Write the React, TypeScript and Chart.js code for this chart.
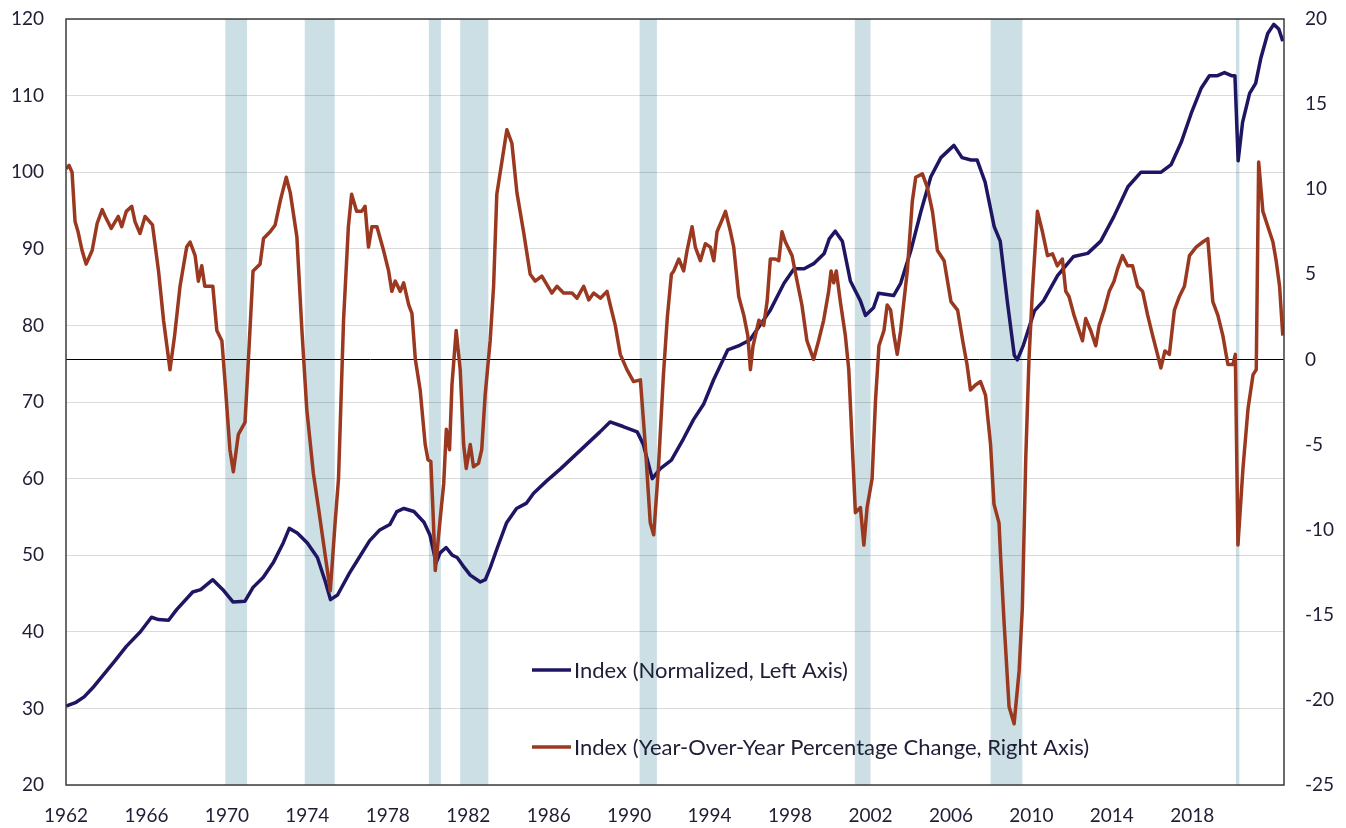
import React, { useEffect, useRef } from 'react';
import { Chart, registerables } from 'chart.js';

Chart.register(...registerables);

// ---- Data ----
const indexYears = [
  1962.0, 1962.5, 1962.9, 1963.4, 1963.9, 1964.4, 1965.0, 1965.7, 1966.25, 1966.6,
  1967.1, 1967.5, 1968.3, 1968.7, 1969.3, 1969.8, 1970.3, 1970.9, 1971.3, 1971.8,
  1972.3, 1972.8, 1973.1, 1973.5, 1974.0, 1974.5, 1974.9, 1975.15, 1975.5, 1976.1,
  1976.6, 1977.1, 1977.6, 1978.1, 1978.45, 1978.8, 1979.3, 1979.8, 1980.1, 1980.4,
  1980.6, 1980.9, 1981.2, 1981.45, 1981.8, 1982.1, 1982.6, 1982.85, 1983.1, 1983.45,
  1983.9, 1984.4, 1984.9, 1985.25, 1985.9, 1986.6, 1987.25, 1987.9, 1988.55, 1989.05,
  1989.7, 1990.4, 1990.7, 1991.15, 1991.55, 1992.1, 1992.7, 1993.2, 1993.7, 1994.2,
  1994.9, 1995.5, 1996.0, 1996.5, 1997.0, 1997.7, 1998.2, 1998.7, 1999.2, 1999.7,
  1999.95, 2000.25, 2000.6, 2001.0, 2001.5, 2001.75, 2002.15, 2002.4, 2003.15, 2003.5,
  2004.0, 2004.5, 2005.0, 2005.5, 2006.15, 2006.55, 2007.0, 2007.3, 2007.7, 2008.15,
  2008.45, 2008.8, 2009.15, 2009.3, 2009.6, 2010.15, 2010.6, 2011.3, 2012.1, 2012.8,
  2013.45, 2014.1, 2014.8, 2015.45, 2015.95, 2016.45, 2016.95, 2017.45, 2017.95, 2018.45,
  2018.85, 2019.25, 2019.6, 2019.95, 2020.12, 2020.28, 2020.5, 2020.85, 2021.15, 2021.4,
  2021.75, 2022.05, 2022.3, 2022.5,
];
const indexValues = [
  30.3, 30.8, 31.5, 32.9, 34.5, 36.1, 38.1, 40.0, 41.9, 41.6,
  41.5, 42.9, 45.2, 45.5, 46.8, 45.5, 43.9, 44.0, 45.8, 47.1,
  49.0, 51.6, 53.5, 52.9, 51.6, 49.7, 46.5, 44.2, 44.8, 47.7,
  49.8, 51.9, 53.3, 54.0, 55.7, 56.1, 55.7, 54.3, 52.6, 49.0,
  50.3, 51.0, 50.0, 49.7, 48.4, 47.4, 46.5, 46.8, 48.4, 51.0,
  54.2, 56.1, 56.8, 58.1, 59.7, 61.3, 62.9, 64.5, 66.1, 67.4,
  66.8, 66.1, 64.5, 60.0, 61.3, 62.4, 65.2, 67.7, 69.7, 72.9,
  76.8, 77.4, 78.1, 80.0, 81.9, 85.5, 87.4, 87.4, 88.1, 89.4,
  91.3, 92.3, 91.0, 85.8, 83.2, 81.3, 82.3, 84.2, 83.9, 85.5,
  89.7, 94.8, 99.4, 101.9, 103.5, 101.9, 101.6, 101.6, 98.7, 92.9,
  91.0, 83.2, 76.1, 75.5, 77.4, 81.9, 83.2, 86.5, 89.0, 89.4,
  91.0, 94.2, 98.1, 100.0, 100.0, 100.0, 101.0, 103.9, 107.7, 111.0,
  112.6, 112.6, 113.0, 112.6, 112.6, 101.5, 106.5, 110.3, 111.6, 114.8,
  118.1, 119.3, 118.7, 117.1,
];

const yoyYears = [
  1962.0, 1962.15, 1962.3, 1962.45, 1962.6, 1962.8, 1963.0, 1963.3, 1963.55, 1963.8,
  1963.95, 1964.25, 1964.6, 1964.77, 1965.0, 1965.27, 1965.43, 1965.68, 1965.93, 1966.3,
  1966.6, 1966.85, 1967.05, 1967.17, 1967.4, 1967.67, 1968.0, 1968.17, 1968.42, 1968.58,
  1968.75, 1968.9, 1969.3, 1969.5, 1969.75, 1969.9, 1970.15, 1970.32, 1970.57, 1970.9,
  1971.07, 1971.3, 1971.65, 1971.82, 1972.15, 1972.4, 1972.65, 1972.95, 1973.15, 1973.48,
  1973.73, 1973.97, 1974.3, 1974.55, 1974.9, 1975.14, 1975.38, 1975.55, 1975.8, 1976.04,
  1976.2, 1976.45, 1976.7, 1976.87, 1977.04, 1977.21, 1977.46, 1977.79, 1978.04, 1978.2,
  1978.37, 1978.62, 1978.79, 1979.04, 1979.2, 1979.37, 1979.61, 1979.86, 1980.0, 1980.14,
  1980.24, 1980.36, 1980.61, 1980.78, 1980.91, 1981.07, 1981.19, 1981.4, 1981.6, 1981.77,
  1981.9, 1982.1, 1982.26, 1982.51, 1982.67, 1982.84, 1983.09, 1983.26, 1983.42, 1983.67,
  1983.92, 1984.17, 1984.42, 1984.75, 1985.08, 1985.33, 1985.66, 1986.16, 1986.41, 1986.74,
  1987.16, 1987.41, 1987.74, 1987.99, 1988.24, 1988.57, 1988.9, 1989.06, 1989.31, 1989.56,
  1989.89, 1990.22, 1990.56, 1990.8, 1991.05, 1991.22, 1991.45, 1991.7, 1991.9, 1992.1,
  1992.22, 1992.47, 1992.71, 1992.88, 1993.13, 1993.29, 1993.54, 1993.79, 1994.04, 1994.21,
  1994.37, 1994.62, 1994.79, 1995.04, 1995.2, 1995.45, 1995.7, 1995.9, 1996.03, 1996.16,
  1996.45, 1996.69, 1996.86, 1997.02, 1997.27, 1997.44, 1997.6, 1997.77, 1998.1, 1998.35,
  1998.59, 1998.84, 1999.17, 1999.42, 1999.67, 1999.92, 2000.04, 2000.17, 2000.3, 2000.5,
  2000.75, 2000.92, 2001.08, 2001.25, 2001.5, 2001.67, 2001.83, 2002.08, 2002.25, 2002.42,
  2002.67, 2002.83, 2003.0, 2003.17, 2003.33, 2003.5, 2003.83, 2004.08, 2004.25, 2004.58,
  2004.83, 2005.08, 2005.33, 2005.66, 2006.0, 2006.33, 2006.6, 2006.8, 2006.97, 2007.22,
  2007.47, 2007.72, 2007.97, 2008.14, 2008.39, 2008.47, 2008.64, 2008.89, 2009.14, 2009.39,
  2009.55, 2009.72, 2009.88, 2010.05, 2010.3, 2010.55, 2010.8, 2011.05, 2011.29, 2011.54,
  2011.71, 2011.87, 2012.12, 2012.37, 2012.54, 2012.7, 2012.95, 2013.2, 2013.37, 2013.62,
  2013.87, 2014.11, 2014.28, 2014.53, 2014.78, 2015.03, 2015.28, 2015.53, 2015.78, 2016.03,
  2016.27, 2016.44, 2016.64, 2016.86, 2017.11, 2017.36, 2017.61, 2017.86, 2018.19, 2018.52,
  2018.77, 2019.02, 2019.27, 2019.52, 2019.77, 2020.02, 2020.14, 2020.27, 2020.52, 2020.77,
  2021.02, 2021.18, 2021.3, 2021.51, 2021.76, 2022.01, 2022.17, 2022.34, 2022.5,
];
const yoyValues = [
  11.2, 11.4, 11.0, 8.1, 7.5, 6.4, 5.6, 6.4, 8.0, 8.8,
  8.4, 7.7, 8.4, 7.8, 8.7, 9.0, 8.1, 7.4, 8.4, 7.9,
  5.2, 2.3, 0.5, -0.6, 1.4, 4.3, 6.6, 6.9, 6.1, 4.6,
  5.5, 4.3, 4.3, 1.7, 1.1, -1.2, -5.3, -6.6, -4.4, -3.7,
  0.0, 5.2, 5.6, 7.1, 7.5, 7.9, 9.3, 10.7, 9.8, 7.2,
  1.7, -2.9, -6.7, -8.7, -11.6, -13.6, -9.6, -7.0, 2.3, 7.8,
  9.7, 8.7, 8.7, 9.0, 6.6, 7.8, 7.8, 6.4, 5.2, 4.0,
  4.6, 4.0, 4.5, 3.2, 2.7, 0.0, -1.8, -5.0, -5.9, -6.0,
  -8.7, -12.4, -9.3, -7.3, -4.1, -5.3, -1.5, 1.7, -0.6, -5.0,
  -6.4, -5.0, -6.3, -6.1, -5.3, -2.1, 1.1, 4.3, 9.7, 11.6,
  13.5, 12.7, 9.8, 7.5, 5.0, 4.6, 4.9, 3.9, 4.3, 3.9,
  3.9, 3.6, 4.3, 3.5, 3.9, 3.6, 4.0, 3.2, 2.0, 0.3,
  -0.6, -1.3, -1.2, -5.0, -9.6, -10.3, -6.5, -1.0, 2.5, 5.0,
  5.2, 5.9, 5.2, 6.4, 7.8, 6.6, 5.8, 6.8, 6.6, 5.8,
  7.5, 8.2, 8.7, 7.5, 6.6, 3.7, 2.6, 1.4, -0.6, 0.8,
  2.3, 2.0, 3.4, 5.9, 5.9, 5.8, 7.5, 6.9, 6.1, 4.6,
  3.2, 1.1, 0.0, 1.1, 2.3, 4.0, 5.2, 4.5, 5.2, 3.4,
  1.4, -0.6, -4.7, -9.0, -8.7, -10.9, -8.7, -7.0, -2.4, 0.8,
  1.7, 3.2, 2.9, 1.4, 0.3, 1.7, 5.2, 9.3, 10.7, 10.9,
  10.1, 8.7, 6.4, 5.8, 3.4, 2.9, 1.0, -0.3, -1.8, -1.5,
  -1.3, -2.1, -5.0, -8.5, -9.6, -11.6, -15.4, -20.4, -21.4, -18.3,
  -14.6, -5.8, 0.0, 4.0, 8.7, 7.5, 6.1, 6.2, 5.5, 5.9,
  4.0, 3.7, 2.6, 1.7, 1.1, 2.4, 1.7, 0.8, 2.0, 2.9,
  4.0, 4.6, 5.3, 6.1, 5.5, 5.5, 4.3, 4.0, 2.6, 1.4,
  0.3, -0.5, 0.5, 0.3, 2.9, 3.7, 4.3, 6.1, 6.6, 6.9,
  7.1, 3.4, 2.6, 1.4, -0.3, -0.3, 0.3, -10.9, -6.4, -2.9,
  -0.9, -0.6, 11.6, 8.7, 7.8, 6.9, 5.8, 4.3, 1.4,
];

const recessionStarts = [1969.92, 1973.87, 1980.04, 1981.6, 1990.52, 2001.22, 2007.97, 2020.17];
const recessionEnds = [1971.0, 1975.36, 1980.64, 1983.0, 1991.38, 2002.0, 2009.55, 2020.34];

const xTickYears = [1962, 1966, 1970, 1974, 1978, 1982, 1986, 1990, 1994, 1998, 2002, 2006, 2010, 2014, 2018];
const leftTicks = [20, 30, 40, 50, 60, 70, 80, 90, 100, 110, 120];
const rightTicks = [-25, -20, -15, -10, -5, 0, 5, 10, 15, 20];

const seriesLabels = [
  'Index (Normalized, Left Axis)',
  'Index (Year-Over-Year Percentage Change, Right Axis)',
];

const BLUE = '#1e1663';
const RED = '#9a3820';
const TEXT = '#1e1e36';
const FONT = 'Lato, "Noto Sans", sans-serif';

export default function App() {
  const canvasRef = useRef<HTMLCanvasElement | null>(null);

  useEffect(() => {
    const canvas = canvasRef.current;
    if (!canvas) return;

    const overlay = {
      id: 'overlay',
      beforeDraw(chart: any) {
        const { ctx, chartArea: a, scales } = chart;
        ctx.save();
        ctx.fillStyle = 'rgb(203,223,229)';
        recessionStarts.forEach((s, i) => {
          const x1 = scales.x.getPixelForValue(s);
          const x2 = scales.x.getPixelForValue(recessionEnds[i]);
          ctx.fillRect(x1, a.top, x2 - x1, a.bottom - a.top);
        });
        ctx.restore();
      },
      beforeDatasetsDraw(chart: any) {
        const { ctx, chartArea: a, scales } = chart;
        const y0 = Math.round(scales.y1.getPixelForValue(0)) + 0.5;
        ctx.save();
        ctx.strokeStyle = '#000';
        ctx.lineWidth = 1;
        ctx.beginPath();
        ctx.moveTo(a.left, y0);
        ctx.lineTo(a.right, y0);
        ctx.stroke();
        ctx.restore();
      },
      afterDatasetsDraw(chart: any) {
        const { ctx, chartArea: a } = chart;
        ctx.save();
        ctx.strokeStyle = '#3c3c3c';
        ctx.lineWidth = 1.5;
        ctx.strokeRect(a.left, a.top, a.right - a.left, a.bottom - a.top);
        // legend
        const items = [
          { label: seriesLabels[0], color: BLUE, y: 670 },
          { label: seriesLabels[1], color: RED, y: 747 },
        ];
        ctx.font = `22px ${FONT}`;
        ctx.textBaseline = 'middle';
        ctx.textAlign = 'left';
        items.forEach((it) => {
          ctx.strokeStyle = it.color;
          ctx.lineWidth = 3.5;
          ctx.beginPath();
          ctx.moveTo(532, it.y);
          ctx.lineTo(571, it.y);
          ctx.stroke();
          ctx.fillStyle = TEXT;
          ctx.fillText(it.label, 574, it.y + 1);
        });
        ctx.restore();
      },
    };

    const fitY = (w: number) => (s: any) => {
      s.width = w;
      s.paddingTop = 0;
      s.paddingBottom = 0;
    };

    const chart = new Chart(canvas, {
      type: 'line',
      data: {
        datasets: [
          {
            label: seriesLabels[0],
            data: indexYears.map((x, i) => ({ x, y: indexValues[i] })),
            borderColor: BLUE,
            borderWidth: 3.5,
            pointRadius: 0,
            tension: 0,
            yAxisID: 'y',
            order: 2,
            borderJoinStyle: 'round',
          },
          {
            label: seriesLabels[1],
            data: yoyYears.map((x, i) => ({ x, y: yoyValues[i] })),
            borderColor: RED,
            borderWidth: 3.5,
            pointRadius: 0,
            tension: 0,
            yAxisID: 'y1',
            order: 1,
            borderJoinStyle: 'round',
          },
        ],
      },
      options: {
        animation: false,
        responsive: false,
        maintainAspectRatio: false,
        layout: { padding: { top: 19, left: 0, right: 0, bottom: 0 } },
        plugins: { legend: { display: false }, tooltip: { enabled: false } },
        scales: {
          x: {
            type: 'linear',
            min: 1962,
            max: 2022.56,
            grid: { display: false, drawTicks: false },
            border: { display: false },
            afterBuildTicks: (s: any) => {
              s.ticks = xTickYears.map((v) => ({ value: v }));
            },
            afterFit: (s: any) => {
              s.height = 43;
              s.paddingLeft = 0;
              s.paddingRight = 0;
            },
            ticks: {
              autoSkip: false,
              maxRotation: 0,
              padding: 19,
              color: TEXT,
              font: { family: FONT, size: 19 },
              callback: (v: any) => String(v),
            },
          },
          y: {
            type: 'linear',
            position: 'left',
            min: 20,
            max: 120,
            afterBuildTicks: (s: any) => {
              s.ticks = leftTicks.map((v) => ({ value: v }));
            },
            afterFit: fitY(66),
            grid: { color: 'rgba(0,0,0,0.14)', drawTicks: false, lineWidth: 1 },
            border: { display: false },
            ticks: {
              autoSkip: false,
              padding: 22,
              color: TEXT,
              font: { family: FONT, size: 19 },
              callback: (v: any) => String(v),
            },
          },
          y1: {
            type: 'linear',
            position: 'right',
            min: -25,
            max: 20,
            afterBuildTicks: (s: any) => {
              s.ticks = rightTicks.map((v) => ({ value: v }));
            },
            afterFit: fitY(62),
            grid: { display: false, drawTicks: false },
            border: { display: false },
            ticks: {
              autoSkip: false,
              padding: 21,
              color: TEXT,
              font: { family: FONT, size: 19 },
              callback: (v: any) => String(v),
            },
          },
        },
      },
      plugins: [overlay],
    } as any);

    return () => {
      chart.destroy();
    };
  }, []);

  return (
    <div style={{ position: 'fixed', left: 0, top: 0, width: 1346, height: 828, background: '#fff' }}>
      <canvas ref={canvasRef} width={1346} height={828} style={{ width: 1346, height: 828, display: 'block' }} />
    </div>
  );
}
